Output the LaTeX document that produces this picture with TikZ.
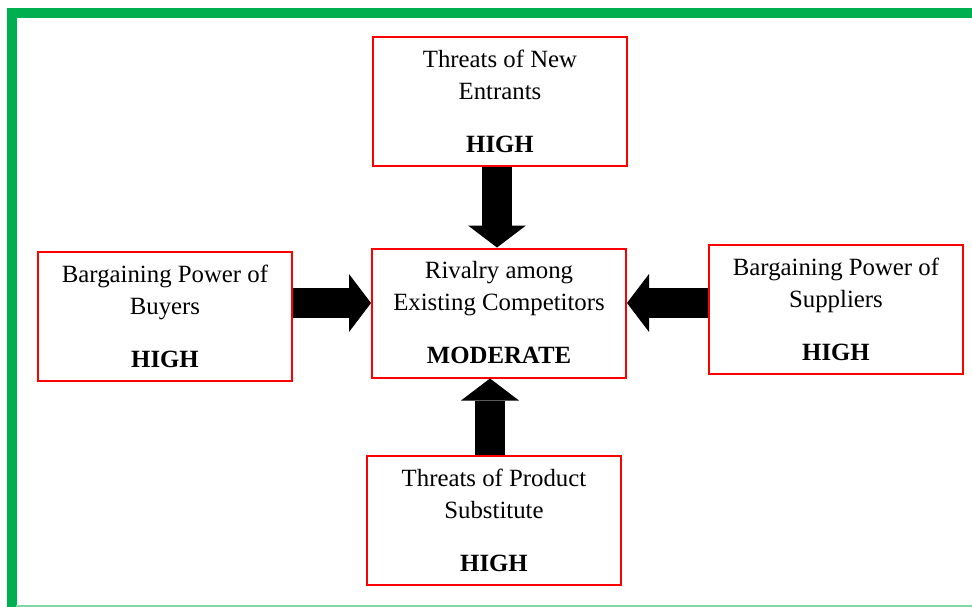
\documentclass[tikz,border=0pt]{standalone}
\usepackage{fontspec}
\setmainfont{Liberation Serif}
\usetikzlibrary{arrows.meta}
\definecolor{bordergreen}{HTML}{00B050}
\definecolor{borderlight}{HTML}{7FD8A0}
\newcommand{\level}[1]{\\[15.75pt]\textbf{#1}}

\begin{document}
\begin{tikzpicture}[x=0.75pt, y=0.75pt,
    force/.style={draw=red, line width=1.5pt, align=center, inner sep=0pt,
      minimum width=190.5pt, minimum height=96.75pt,
      font=\fontsize{18.6pt}{24pt}\selectfont},
    push/.style={line width=22.5pt,
      -{Triangle[line width=0pt, width=43.5pt, length=16.5pt]}}]
  \useasboundingbox (0,0) rectangle (972,-607);
  % page frame
  \draw[bordergreen, line width=7.5pt] (11.5,-607) -- (11.5,-13) -- (972,-13);
  \draw[borderlight, line width=1.5pt] (16,-606) -- (972,-606);
  % the five forces
  \node[force] (mid) at (499,-313) {Rivalry among\\Existing Competitors\level{MODERATE}};
  \node[force] (new) at (500,-101) {Threats of New\\Entrants\level{HIGH}};
  \node[force] (buy) at (165,-316.5) {Bargaining Power of\\Buyers\level{HIGH}};
  \node[force] (sup) at (836,-309.5) {Bargaining Power of\\Suppliers\level{HIGH}};
  \node[force] (sub) at (494,-520.5) {Threats of Product\\Substitute\level{HIGH}};
  % arrows into the rivalry box
  \draw[push] ([xshift=-2.25pt]new.south) -- ([xshift=-2.25pt]new.south |- mid.north);
  \draw[push] ([yshift=10.1pt]buy.east) -- ([yshift=10.1pt]buy.east -| mid.west);
  \draw[push] ([yshift=4.9pt]sup.west) -- ([yshift=4.9pt]sup.west -| mid.east);
  \draw[push] ([xshift=-3pt]sub.north) -- ([xshift=-3pt]sub.north |- mid.south);
\end{tikzpicture}
\end{document}
